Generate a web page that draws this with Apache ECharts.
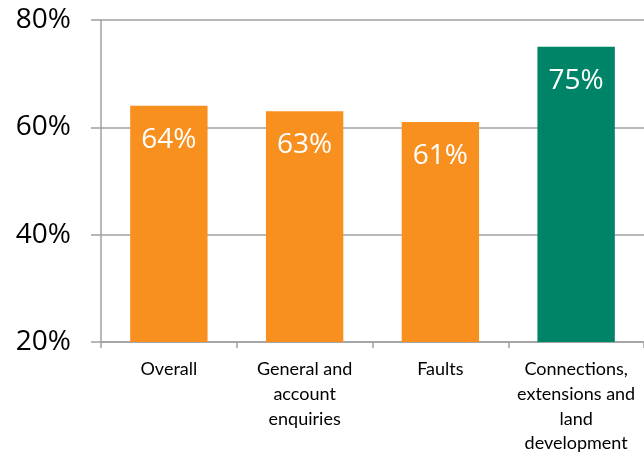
<!DOCTYPE html>
<html><head><meta charset="utf-8">
<script src="https://cdn.jsdelivr.net/npm/echarts@6/dist/echarts.min.js"></script>
<style>html,body{margin:0;padding:0;background:#fff}#c{width:644px;height:458px}</style>
</head><body><div id="c"></div>
<script>
const categories = ["Overall", "General and\naccount\nenquiries", "Faults", "Connections,\nextensions and\nland\ndevelopment"];
const values = [64, 63, 61, 75];
const barColors = ["#F7901E", "#F7901E", "#F7901E", "#008467"];
const yTicks = [20, 40, 60, 80];

const chart = echarts.init(document.getElementById('c'), null, {renderer: 'canvas'});
chart.setOption({
  animation: false,
  grid: {left: 101, top: 20, right: 0, bottom: 116},
  xAxis: {
    type: 'category', data: categories,
    axisLine: {lineStyle: {color: '#a0a0a0', width: 1.5}},
    axisTick: {show: true, length: 6, lineStyle: {color: '#a0a0a0', width: 1.5}},
    axisLabel: {interval: 0, color: '#000', fontFamily: 'Lato', fontSize: 18, lineHeight: 24.7, margin: 15}
  },
  yAxis: {
    type: 'value', min: yTicks[0], max: yTicks[yTicks.length-1], interval: 20,
    axisLine: {show: true, lineStyle: {color: '#a0a0a0', width: 1.5}},
    axisTick: {show: true, length: 10, lineStyle: {color: '#a0a0a0', width: 1.5}},
    splitLine: {lineStyle: {color: '#a0a0a0', width: 1.5}},
    axisLabel: {color: '#000', fontFamily: 'Open Sans', fontSize: 28, margin: 30, formatter: v => v + '%'}
  },
  series: [{
    type: 'bar', barWidth: '57%',
    data: values.map((v, i) => ({value: v, itemStyle: {color: barColors[i]}})),
    label: {show: true, position: 'insideTop', distance: 20, color: '#fff', fontFamily: 'Open Sans', fontSize: 28, formatter: p => p.value + '%'}
  }]
});
</script></body></html>
